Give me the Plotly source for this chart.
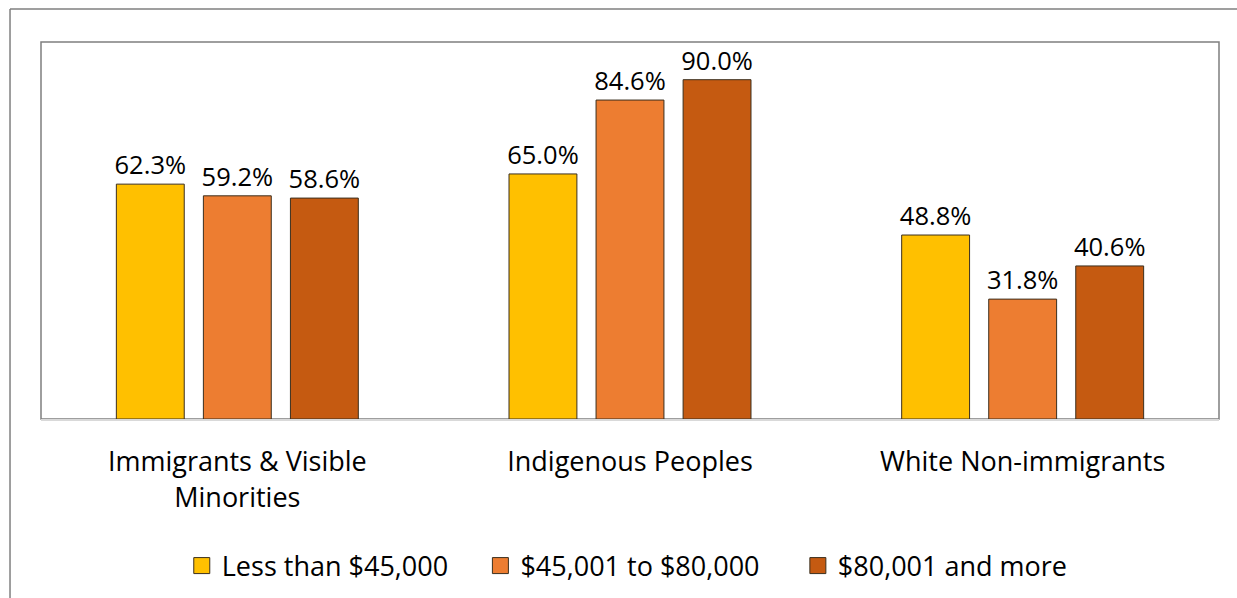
import plotly.graph_objects as go

categories = ["Immigrants & Visible<br>Minorities", "Indigenous Peoples", "White Non-immigrants"]
series_names = ["Less than $45,000", "$45,001 to $80,000", "$80,001 and more"]
less_45k = [62.3, 65.0, 48.8]
mid_45k_80k = [59.2, 84.6, 31.8]
over_80k = [58.6, 90.0, 40.6]
colors = ["#FFC000", "#ED7D31", "#C55A11"]

FONT = "Open Sans"
LABEL_SIZE = 25.5
TICK_SIZE = 27
LEGEND_SIZE = 27
OUTLINE = "#3b2f1e"

fig = go.Figure()
for name, vals, col in zip(series_names, [less_45k, mid_45k_80k, over_80k], colors):
    fig.add_trace(go.Bar(
        x=categories, y=vals, name=name, showlegend=False,
        marker=dict(color=col, line=dict(color=OUTLINE, width=1)),
        text=[f"{v:.1f}%" for v in vals],
        textposition="outside",
        constraintext="none",
        textfont=dict(family=FONT, size=LABEL_SIZE, color="#000000"),
        cliponaxis=False,
    ))

# legend entries: one legend per series so each can be placed on its own
legend_ids = ["legend", "legend2", "legend3"]
legend_x = [0.1195, 0.3730, 0.6425]
for name, col, lid in zip(series_names, colors, legend_ids):
    fig.add_trace(go.Scatter(
        x=[None], y=[None], mode="markers", name=name, legend=lid,
        marker=dict(symbol="square", size=16, color=col, line=dict(color=OUTLINE, width=1)),
    ))

legend_common = dict(orientation="h", xanchor="left", y=-0.39, yanchor="middle",
                     font=dict(family=FONT, size=LEGEND_SIZE, color="#000000"),
                     itemclick=False, itemdoubleclick=False, bgcolor="rgba(0,0,0,0)")

fig.update_layout(
    width=1237, height=598,
    margin=dict(l=41, r=18, t=42, b=179, autoexpand=False),
    paper_bgcolor="white", plot_bgcolor="white",
    barmode="group", bargap=0.335, bargroupgap=0.22,
    font=dict(family=FONT, size=TICK_SIZE, color="#000000"),
    showlegend=True,
    legend=dict(x=legend_x[0], **legend_common),
    legend2=dict(x=legend_x[1], **legend_common),
    legend3=dict(x=legend_x[2], **legend_common),
    xaxis=dict(showgrid=False, showline=True, linecolor="#D9D9D9", linewidth=2,
               ticks="", tickfont=dict(family=FONT, size=TICK_SIZE), ticklabelstandoff=18,
               automargin=False),
    yaxis=dict(range=[0, 100], showgrid=False, showticklabels=False, zeroline=False,
               showline=False, automargin=False),
    shapes=[
        # outer chart frame: top and left edges
        dict(type="line", xref="paper", yref="paper", x0=-0.0263, x1=1.1, y0=1.0875, y1=1.0875,
             line=dict(color="#7F7F7F", width=1.5), layer="below"),
        dict(type="line", xref="paper", yref="paper", x0=-0.0263, x1=-0.0263, y0=-2, y1=1.0875,
             line=dict(color="#7F7F7F", width=1.5), layer="below"),
        # plot area frame
        dict(type="rect", xref="paper", yref="paper", x0=0, x1=1, y0=0, y1=1,
             line=dict(color="#7F7F7F", width=1.5), layer="below"),
    ],
)

fig.write_html("out.html")
